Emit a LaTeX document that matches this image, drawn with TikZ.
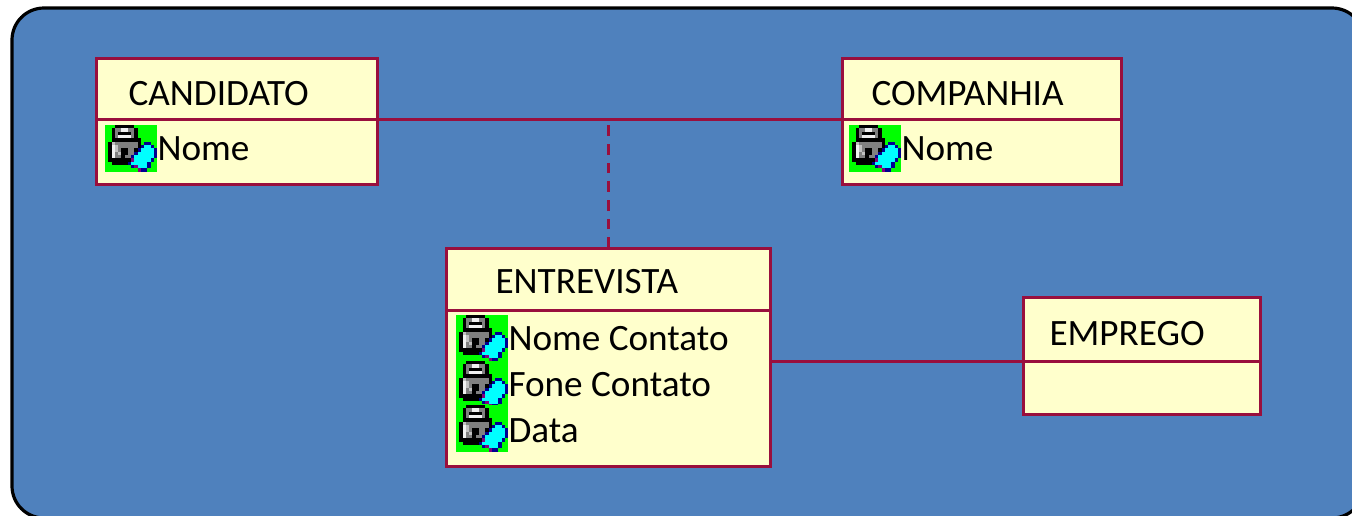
\documentclass[tikz,border=0pt]{standalone}
\usepackage{fontspec}
\setmainfont{Carlito}
\definecolor{bgblue}{HTML}{4F81BD}
\definecolor{edge}{HTML}{990F3D}
\definecolor{boxfill}{HTML}{FFFFCC}
\definecolor{icK}{HTML}{000000}
\definecolor{icG}{HTML}{808080}
\definecolor{icL}{HTML}{C0C0C0}
\definecolor{icW}{HTML}{F0F0F0}
\definecolor{icB}{HTML}{000090}
\definecolor{icC}{HTML}{00FFFF}
\definecolor{icP}{HTML}{800080}
\definecolor{icV}{HTML}{00FF00}
\tikzset{
  panel/.style={draw=black,line width=3.2pt,fill=bgblue,rounded corners=32pt},
  cell/.style={draw=edge,line width=3pt,fill=boxfill,rectangle,inner sep=0pt,outer sep=0pt,anchor=north west},
  label/.style={anchor=base west,inner sep=0pt,outer sep=0pt,text=black,font=\fontsize{37.2}{40}\selectfont},
  link/.style={draw=edge,line width=3pt},
  dashlink/.style={draw=edge,line width=3pt,dash pattern=on 10.7pt off 8pt},
  keyicon/.pic={
    \begin{scope}[x=3.25pt,y=-3.34pt]
    \fill[icV] (0,0) rectangle (16,14);
    \foreach \c/\a/\r/\w in {
      K/3/0/6,
      K/2/1/1,G/3/1/2,W/5/1/2,G/7/1/2,K/9/1/1,
      K/2/2/1,G/3/2/1,K/4/2/4,G/8/2/1,K/9/2/1,
      K/2/3/1,G/3/3/1,W/4/3/4,G/8/3/1,K/9/3/1,
      K/2/4/9,
      K/1/5/1,L/2/5/1,G/3/5/7,K/10/5/1,B/12/5/2,
      K/1/6/1,W/2/6/1,L/3/6/1,G/4/6/6,K/10/6/1,B/11/6/1,C/12/6/2,B/14/6/1,
      K/1/7/1,W/2/7/1,L/3/7/1,G/4/7/1,K/5/7/2,G/7/7/2,K/9/7/1,B/10/7/1,C/11/7/4,B/15/7/1,
      K/1/8/1,W/2/8/1,G/3/8/1,L/4/8/1,K/5/8/2,G/7/8/2,B/9/8/1,C/10/8/5,B/15/8/1,
      K/1/9/1,W/2/9/1,G/3/9/2,K/5/9/1,G/6/9/2,B/8/9/1,C/9/9/6,B/15/9/1,
      K/1/10/7,P/8/10/1,C/9/10/5,B/14/10/1,
      K/2/11/5,B/7/11/1,C/8/11/5,B/13/11/1,
      B/8/12/1,P/9/12/1,C/10/12/3,B/13/12/1,
      P/10/13/1,B/11/13/2}
      {\fill[ic\c] (\a,\r) rectangle ++(\w,1);}
    \end{scope}
  }
}
\begin{document}
\begin{tikzpicture}[x=1pt,y=-1pt]
\clip (0,0) rectangle (1352,515);
\draw[panel] (12,8) rectangle (1364,518);
% class boxes
\node[cell,minimum width=281pt,minimum height=61.5pt] (candh) at (96.5,58) {};
\node[cell,minimum width=281pt,minimum height=64.5pt] (candb) at (96.5,119.5) {};
\node[cell,minimum width=279pt,minimum height=61.5pt] (comph) at (842.5,58) {};
\node[cell,minimum width=279pt,minimum height=64.5pt] (compb) at (842.5,119.5) {};
\node[cell,minimum width=324pt,minimum height=62pt] (entreh) at (446.5,248) {};
\node[cell,minimum width=324pt,minimum height=156pt] (entreb) at (446.5,310) {};
\node[cell,minimum width=237pt,minimum height=64pt] (empreh) at (1023.5,297) {};
\node[cell,minimum width=237pt,minimum height=53pt] (empreb) at (1023.5,361) {};
% connectors
\draw[link] (candh.south east) -- (comph.south west);
\draw[dashlink] (entreh.north) -- (entreh.north |- candh.south east);
\draw[link] (entreb.east |- empreh.south west) -- (empreh.south west);
% titles
\node[label] (t1) at (128.5,105.5) {CANDIDATO};
\node[label] (t2) at (871.5,105.5) {COMPANHIA};
\node[label] (t3) at (495.5,293.5) {ENTREVISTA};
\node[label] (t4) at (1049.5,345) {EMPREGO};
% attributes
\pic at (105,125) {keyicon};
\pic at (849,125) {keyicon};
\pic at (456,315) {keyicon};
\pic at (456,361) {keyicon};
\pic at (456,405) {keyicon};
\node[label] (a1) at (157.5,160) {Nome};
\node[label] (a2) at (901.5,160) {Nome};
\node[label] (a3) at (508.5,350) {Nome Contato};
\node[label] (a4) at (508.5,396) {Fone Contato};
\node[label] (a5) at (508.5,442) {Data};
\end{tikzpicture}
\end{document}
